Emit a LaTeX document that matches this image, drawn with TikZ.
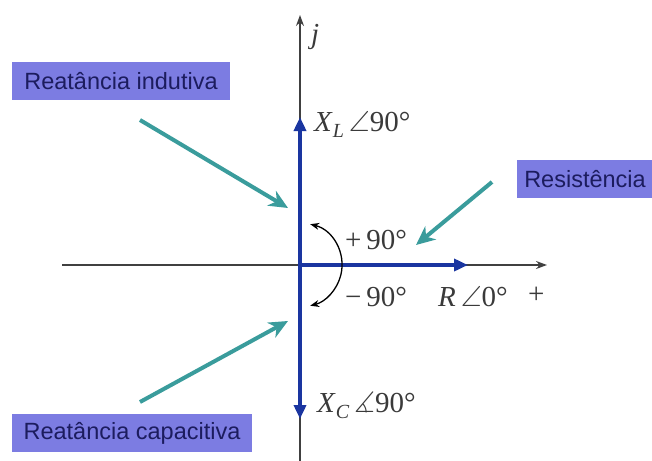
\documentclass[tikz,border=0pt]{standalone}
\usepackage{fontspec}
\usepackage{amssymb}
\setmainfont{Liberation Serif}
\setsansfont{Liberation Sans}
\usetikzlibrary{arrows.meta}
\definecolor{boxfill}{HTML}{7C7CE2}
\definecolor{boxtext}{HTML}{1C1C5E}
\definecolor{phasor}{HTML}{1A35A0}
\definecolor{teal}{HTML}{3A9C9C}
\definecolor{lbl}{HTML}{3A3A3A}
\tikzset{
  tag/.style={fill=boxfill, text=boxtext, font=\sffamily\fontsize{23.5}{25}\selectfont, inner sep=0pt, minimum height=38pt, anchor=center},
  axis/.style={draw=black!75, line width=1.3pt, -{Stealth[length=11pt,width=8pt]}},
  vec/.style={draw=phasor, line width=3.8pt},
  pointer/.style={draw=teal, line width=4pt, -{Stealth[length=19pt,width=17pt,inset=6pt]}},
  mlabel/.style={text=lbl, font=\fontsize{29}{31}\selectfont, inner sep=0pt, anchor=west},
  sublbl/.style={},
}
\newcommand{\subtxt}[1]{\raisebox{-6pt}{\fontsize{20}{22}\selectfont\textit{#1}}}
\begin{document}
\begin{tikzpicture}[x=1pt,y=-1pt]
\useasboundingbox (0,0) rectangle (652,460);
% axes
\coordinate (O) at (300,265);
\coordinate (ytop) at (300,15);
\coordinate (ybot) at (300,462);
\coordinate (xl) at (62,265);
\coordinate (xr) at (547,265);
\draw[draw=black!75, line width=1.3pt] (O) -- (ybot);
\draw[axis] (O) -- (ytop);
\draw[axis] (xl) -- (xr);
% phasors
\coordinate (XL) at (300,117);
\coordinate (XC) at (300,419);
\coordinate (R) at (468,265);
\draw[vec, -{Triangle[length=14pt,width=12pt]}] (O) -- (XL);
\draw[vec, -{Triangle[length=14pt,width=12pt]}] (O) -- (XC);
\draw[vec, -{Triangle[length=14pt,width=12pt]}] (O) -- (R);
% angle arc
\coordinate (arcs) at (310.2,224.2);
\draw[black, line width=1.3pt, {Stealth[length=9pt,width=7pt]}-{Stealth[length=9pt,width=7pt]}] (arcs) arc[start angle=76, end angle=-76, radius=42pt];
% labels
\node[mlabel, anchor=south west] (j) at (311,50) {\textit{j}};
\node[mlabel] (lXL) at (314,124) {\textit{X}\subtxt{L}\,$\angle$90°};
\node[mlabel] (lp) at (345,240) {+\,90°};
\node[mlabel] (lm) at (345,297) {−\,90°};
\node[mlabel] (lR) at (438,297) {\textit{R}\,$\angle$0°};
\node[mlabel] (plus) at (528,295) {+};
\node[mlabel] (lXC) at (317,406) {\textit{X}\subtxt{C}\,$\measuredangle$90°};
% tags
\node[tag, minimum width=218pt] (ind) at (121,81) {Reatância indutiva};
\node[tag, minimum width=136pt] (res) at (585,179) {Resistência};
\node[tag, minimum width=240pt] (cap) at (132,433) {Reatância capacitiva};
% pointers
\coordinate (p1s) at (140,120);
\coordinate (p1e) at (288,208);
\coordinate (p2s) at (492,182);
\coordinate (p2e) at (416,245);
\coordinate (p3s) at (140,402);
\coordinate (p3e) at (288,321);
\draw[pointer] (p1s) -- (p1e);
\draw[pointer] (p2s) -- (p2e);
\draw[pointer] (p3s) -- (p3e);
\end{tikzpicture}
\end{document}
